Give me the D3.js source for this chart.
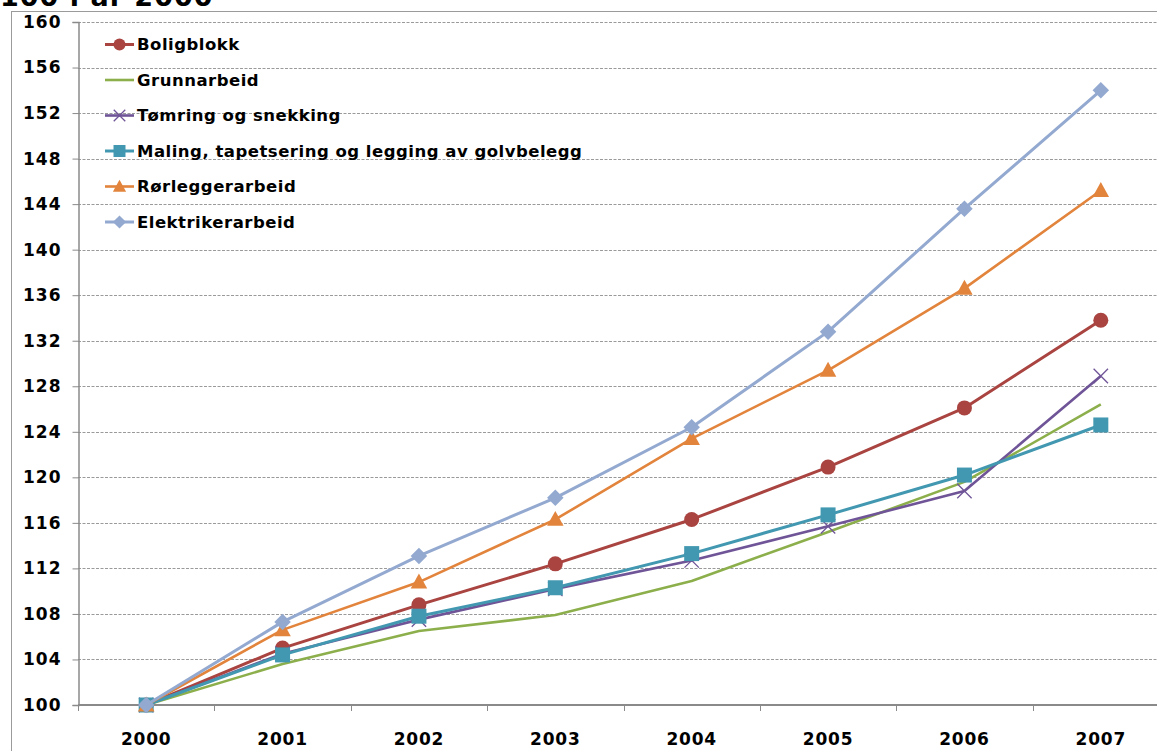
<!DOCTYPE html>
<html>
<head>
<meta charset="utf-8">
<script src="https://cdn.jsdelivr.net/npm/d3@7"></script>
<style>
  html, body { margin: 0; padding: 0; background: #fff; overflow: hidden; }
  svg { display: block; font-family: "DejaVu Sans", Verdana, sans-serif; font-weight: bold; }
</style>
</head>
<body>
<svg id="chart" width="1157" height="751"></svg>
<script>
// Building cost indices, 2000 = 100
const years = ["2000", "2001", "2002", "2003", "2004", "2005", "2006", "2007"];
const yTicks = [100, 104, 108, 112, 116, 120, 124, 128, 132, 136, 140, 144, 148, 152, 156, 160];
const titleText = "100 i år 2000";

const seriesNames = [
  "Boligblokk",
  "Grunnarbeid",
  "Tømring og snekking",
  "Maling, tapetsering og legging av golvbelegg",
  "Rørleggerarbeid",
  "Elektrikerarbeid"
];
const boligblokk   = [100, 105.0, 108.8, 112.4, 116.3, 120.9, 126.1, 133.8];
const grunnarbeid  = [100, 103.6, 106.5, 107.9, 110.9, 115.2, 119.6, 126.4];
const tomring      = [100, 104.5, 107.5, 110.2, 112.7, 115.7, 118.8, 128.9];
const maling       = [100, 104.4, 107.8, 110.3, 113.3, 116.7, 120.2, 124.6];
const rorlegger    = [100, 106.6, 110.8, 116.3, 123.4, 129.4, 136.6, 145.2];
const elektriker   = [100, 107.3, 113.1, 118.2, 124.4, 132.8, 143.6, 154.0];

const seriesValues = [boligblokk, grunnarbeid, tomring, maling, rorlegger, elektriker];
const colors  = ["#A94441", "#8CAF4C", "#6F5497", "#4298B0", "#E2843C", "#93A9D0"];
const markers = ["circle", "none", "cross", "square", "triangle", "diamond"];
const widths  = [3, 2.6, 2.6, 3, 2.6, 3];

const svg = d3.select("#chart");

const x = d3.scaleBand().domain(years).range([78, 1169]).padding(0);
const y = d3.scaleLinear().domain([100, 160]).range([705, 22]);
const cx = d => x(d) + x.bandwidth() / 2;

// outer chart frame
svg.append("rect")
  .attr("x", 11.5).attr("y", 11.5)
  .attr("width", 1200).attr("height", 800)
  .attr("fill", "#fff").attr("stroke", "#9b9b9b").attr("stroke-width", 1);

// title (partly above the top edge)
svg.append("text")
  .attr("x", 0).attr("y", 6)
  .attr("font-size", 27).attr("letter-spacing", 1)
  .attr("fill", "#000")
  .text(titleText);

// horizontal dashed gridlines
svg.append("g")
  .selectAll("line")
  .data(yTicks.filter(t => t !== 100))
  .join("line")
  .attr("x1", 78).attr("x2", 1169)
  .attr("y1", d => Math.round(y(d)) + 0.5).attr("y2", d => Math.round(y(d)) + 0.5)
  .attr("stroke", "#9a9a9a").attr("stroke-width", 1)
  .attr("stroke-dasharray", "3,1.5");

// y axis
const yAxis = svg.append("g")
  .attr("transform", "translate(78.5,0)")
  .call(d3.axisLeft(y).tickValues(yTicks).tickSize(6).tickPadding(11).tickFormat(d3.format("d")));
yAxis.select(".domain").attr("stroke", "#8a8a8a").attr("stroke-width", 1.5);
yAxis.selectAll(".tick line").attr("stroke", "#8a8a8a");
yAxis.selectAll(".tick text")
  .attr("font-family", "DejaVu Sans, Verdana, sans-serif")
  .attr("font-weight", "bold")
  .attr("font-size", 17)
  .attr("fill", "#000")
  .attr("letter-spacing", 1);

// x axis: ticks at band boundaries, labels centred in bands
const xg = svg.append("g");
xg.append("line")
  .attr("x1", 78).attr("x2", 1169)
  .attr("y1", y(100)).attr("y2", y(100))
  .attr("stroke", "#8a8a8a").attr("stroke-width", 2);
xg.selectAll("line.tick")
  .data(years)
  .join("line")
  .attr("class", "tick")
  .attr("x1", d => Math.round(x(d)) + 0.5).attr("x2", d => Math.round(x(d)) + 0.5)
  .attr("y1", y(100)).attr("y2", y(100) + 6)
  .attr("stroke", "#8a8a8a").attr("stroke-width", 1);
xg.selectAll("text")
  .data(years)
  .join("text")
  .attr("x", d => cx(d))
  .attr("y", 745)
  .attr("text-anchor", "middle")
  .attr("font-size", 17)
  .attr("letter-spacing", 0.8)
  .attr("fill", "#000")
  .text(d => d);

// marker drawing helper
function drawMarker(g, type, color, size) {
  const s = size;
  if (type === "circle") {
    g.append("circle").attr("r", s * 0.5).attr("fill", color);
  } else if (type === "square") {
    g.append("rect").attr("x", -s / 2).attr("y", -s / 2).attr("width", s).attr("height", s).attr("fill", color);
  } else if (type === "triangle") {
    const h = s * 0.95;
    g.append("path").attr("d", `M0,${-h * 0.6}L${s * 0.55},${h * 0.45}L${-s * 0.55},${h * 0.45}Z`).attr("fill", color);
  } else if (type === "diamond") {
    const r = s * 0.55;
    g.append("path").attr("d", `M0,${-r}L${r},0L0,${r}L${-r},0Z`).attr("fill", color);
  } else if (type === "cross") {
    const r = s * 0.48;
    g.append("path").attr("d", `M${-r},${-r}L${r},${r}M${-r},${r}L${r},${-r}`)
      .attr("stroke", color).attr("stroke-width", 1.3).attr("fill", "none");
  }
}

// series lines and markers
const line = d3.line().x((d, i) => cx(years[i])).y(d => y(d));
seriesValues.forEach((vals, si) => {
  const g = svg.append("g");
  g.append("path")
    .datum(vals)
    .attr("d", line)
    .attr("fill", "none")
    .attr("stroke", colors[si])
    .attr("stroke-width", widths[si])
    .attr("stroke-linejoin", "round");
  vals.forEach((v, i) => {
    const mg = g.append("g").attr("transform", `translate(${cx(years[i])},${y(v)})`);
    drawMarker(mg, markers[si], colors[si], 15);
  });
});

// legend
const legend = svg.append("g");
const legendY = d3.scaleLinear().domain([0, 5]).range([44.5, 222]);
seriesNames.forEach((name, i) => {
  const ly = legendY(i);
  legend.append("line")
    .attr("x1", 105).attr("x2", 134).attr("y1", ly).attr("y2", ly)
    .attr("stroke", colors[i]).attr("stroke-width", widths[i]);
  const mg = legend.append("g").attr("transform", `translate(119.5,${ly})`);
  drawMarker(mg, markers[i], colors[i], 12);
  legend.append("text")
    .attr("x", 137).attr("y", ly)
    .attr("dy", "0.36em")
    .attr("font-size", 16.5)
    .attr("letter-spacing", 0.5)
    .attr("fill", "#000")
    .text(name);
});
</script>
</body>
</html>
